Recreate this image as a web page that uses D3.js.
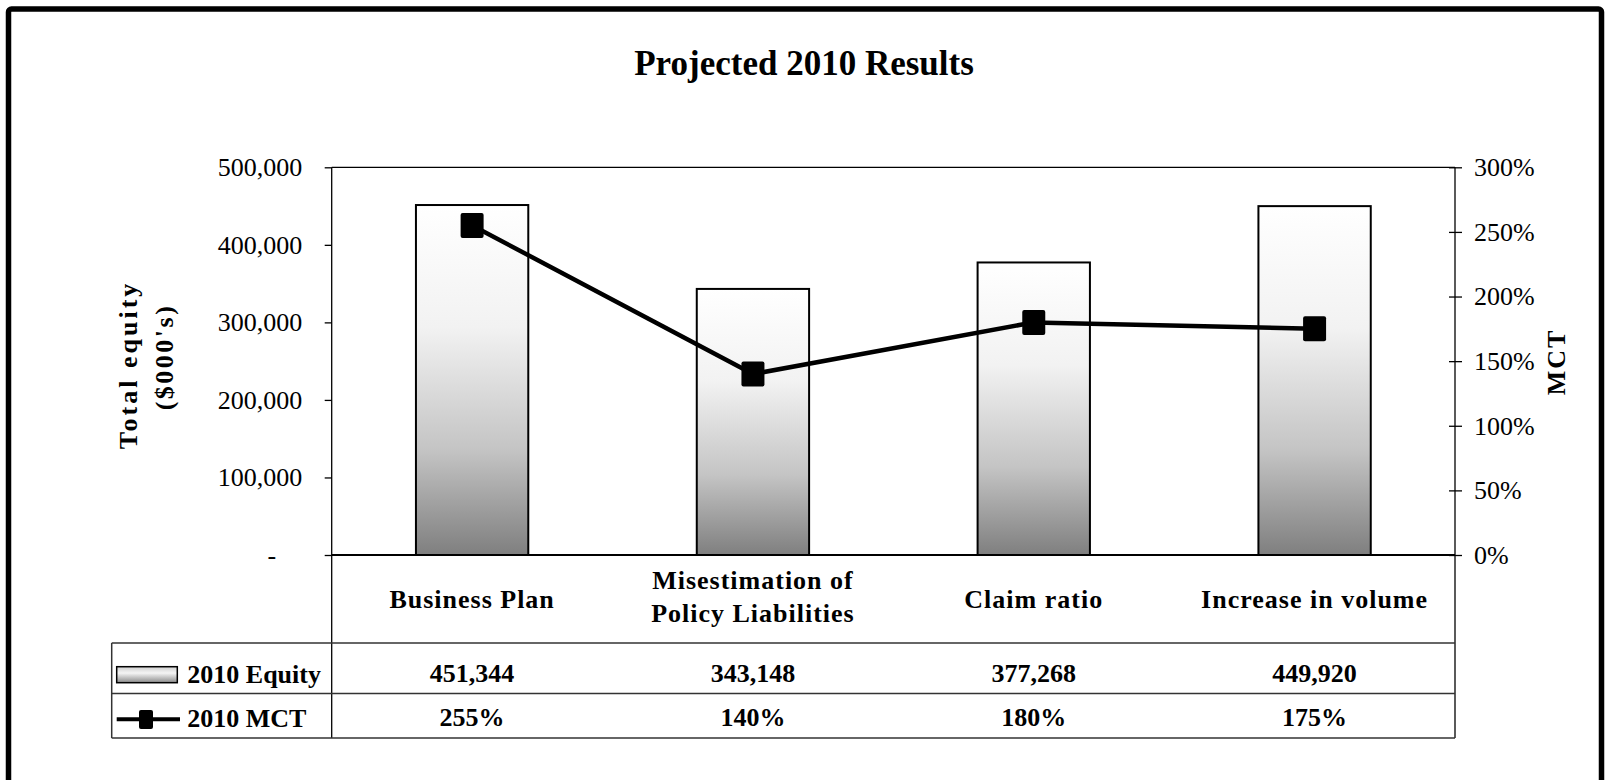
<!DOCTYPE html>
<html>
<head>
<meta charset="utf-8">
<script src="https://cdn.jsdelivr.net/npm/d3@7"></script>
<style>
  html, body { margin: 0; padding: 0; background: #fff; }
  svg { display: block; }
  text { font-family: "Liberation Serif", "Times New Roman", serif; fill: #000; }
</style>
</head>
<body>
<svg id="chart" width="1606" height="780"></svg>
<script>
// ---- data ----
const title = "Projected 2010 Results";
const categories = ["Business Plan", "Misestimation of\nPolicy Liabilities", "Claim ratio", "Increase in volume"];
const equity = [451344, 343148, 377268, 449920];
const mct = [2.55, 1.40, 1.80, 1.75];
const equityTicks = [0, 100000, 200000, 300000, 400000, 500000];
const mctTicks = [0, 0.5, 1.0, 1.5, 2.0, 2.5, 3.0];
const seriesNames = ["2010 Equity", "2010 MCT"];
const equityLabels = ["451,344", "343,148", "377,268", "449,920"];
const mctLabels = ["255%", "140%", "180%", "175%"];

// ---- layout ----
const svg = d3.select("#chart");
const plot = { left: 331.7, right: 1455, top: 167.3, bottom: 555 };
const table = { left: 111.7, top: 643, mid: 693.5, bottom: 738 };

const x = d3.scaleBand().domain(categories).range([plot.left, plot.right]).padding(0);
const yL = d3.scaleLinear().domain([0, 500000]).range([plot.bottom, plot.top]);
const yR = d3.scaleLinear().domain([0, 3]).range([plot.bottom, plot.top]);
const barW = x.bandwidth() * 0.4;

// gradient
const defs = svg.append("defs");
const grad = defs.append("linearGradient").attr("id", "barGrad")
  .attr("x1", 0).attr("y1", 0).attr("x2", 0).attr("y2", 1);
[[0, "#ffffff"], [0.35, "#f2f2f2"], [0.7, "#c4c4c4"], [1, "#7f7f7f"]].forEach(([o, c]) =>
  grad.append("stop").attr("offset", o).attr("stop-color", c));
const grad2 = defs.append("linearGradient").attr("id", "legGrad")
  .attr("x1", 0).attr("y1", 0).attr("x2", 0).attr("y2", 1);
[[0, "#cfcfcf"], [0.4, "#f4f4f4"], [1, "#8a8a8a"]].forEach(([o, c]) =>
  grad2.append("stop").attr("offset", o).attr("stop-color", c));

// outer border
svg.append("rect").attr("x", 8.5).attr("y", 9).attr("width", 1593).attr("height", 900)
  .attr("rx", 3).attr("fill", "none").attr("stroke", "#000").attr("stroke-width", 5.5);

// title
svg.append("text").attr("x", 804).attr("y", 75).attr("text-anchor", "middle")
  .style("font-size", "35px").style("font-weight", "bold").text(title);

// bars
svg.append("g").selectAll("rect").data(equity).join("rect")
  .attr("x", (d, i) => x(categories[i]) + x.bandwidth() / 2 - barW / 2)
  .attr("y", d => yL(d))
  .attr("width", barW)
  .attr("height", d => yL(0) - yL(d))
  .attr("fill", "url(#barGrad)")
  .attr("stroke", "#000").attr("stroke-width", 2);

// plot frame
svg.append("line").attr("x1", plot.left).attr("x2", plot.right).attr("y1", plot.top).attr("y2", plot.top)
  .attr("stroke", "#000").attr("stroke-width", 1.3);

// left axis
const axL = svg.append("g").attr("transform", `translate(${plot.left},0)`)
  .call(d3.axisLeft(yL).tickValues(equityTicks).tickSize(7).tickPadding(22.5)
    .tickFormat(d => d === 0 ? "-" : d3.format(",")(d)));
axL.select(".domain").remove();
axL.selectAll("line").attr("stroke", "#000").attr("stroke-width", 1.3);
axL.selectAll("text").style("font-size", "26px").style("font-family", "Liberation Serif, serif")
  .attr("dx", d => d === 0 ? -26 : 0);

// right axis
const axR = svg.append("g").attr("transform", `translate(${plot.right},0)`)
  .call(d3.axisRight(yR).tickValues(mctTicks).tickSize(7).tickPadding(12)
    .tickFormat(d3.format(".0%")));
axR.select(".domain").remove();
axR.selectAll("line").attr("x1", -6).attr("stroke", "#000").attr("stroke-width", 1.3);
axR.selectAll("text").style("font-size", "26px").style("font-family", "Liberation Serif, serif");

// axis lines
svg.append("line").attr("x1", plot.left).attr("x2", plot.left).attr("y1", plot.top).attr("y2", table.bottom)
  .attr("stroke", "#000").attr("stroke-width", 1.3);
svg.append("line").attr("x1", plot.right).attr("x2", plot.right).attr("y1", plot.top).attr("y2", table.bottom)
  .attr("stroke", "#000").attr("stroke-width", 1.3);
svg.append("line").attr("x1", plot.left).attr("x2", plot.right).attr("y1", plot.bottom).attr("y2", plot.bottom)
  .attr("stroke", "#000").attr("stroke-width", 2);

// MCT line
const line = d3.line().x((d, i) => x(categories[i]) + x.bandwidth() / 2).y(d => yR(d));
svg.append("path").datum(mct).attr("d", line).attr("fill", "none")
  .attr("stroke", "#000").attr("stroke-width", 4.5).attr("stroke-linejoin", "round");
svg.append("g").selectAll("rect").data(mct).join("rect")
  .attr("x", (d, i) => x(categories[i]) + x.bandwidth() / 2 - 11.5)
  .attr("y", d => yR(d) - 12.5)
  .attr("width", 23).attr("height", 25).attr("rx", 2)
  .attr("fill", "#000");

// axis titles
svg.append("text").attr("transform", "translate(137,365) rotate(-90)")
  .attr("text-anchor", "middle").style("font-size", "26px").style("font-weight", "bold")
  .style("letter-spacing", "3px").text("Total equity");
svg.append("text").attr("transform", "translate(173,357) rotate(-90)")
  .attr("text-anchor", "middle").style("font-size", "26px").style("font-weight", "bold")
  .style("letter-spacing", "2.5px").text("($000's)");
svg.append("text").attr("transform", "translate(1565,362) rotate(-90)")
  .attr("text-anchor", "middle").style("font-size", "26px").style("font-weight", "bold")
  .style("letter-spacing", "2px").text("MCT");

// category labels
const catG = svg.append("g");
categories.forEach(c => {
  const lines = c.split("\n");
  const cx = x(c) + x.bandwidth() / 2;
  const t = catG.append("text").attr("text-anchor", "middle")
    .style("font-size", "26px").style("font-weight", "bold").style("letter-spacing", "1px");
  if (lines.length === 1) {
    t.append("tspan").attr("x", cx).attr("y", 608).text(lines[0]);
  } else {
    t.append("tspan").attr("x", cx).attr("y", 589).text(lines[0]);
    t.append("tspan").attr("x", cx).attr("y", 622).text(lines[1]);
  }
});

// table lines
const tl = svg.append("g").attr("stroke", "#333").attr("stroke-width", 1.5);
[table.top, table.mid, table.bottom].forEach(yy =>
  tl.append("line").attr("x1", table.left).attr("x2", plot.right).attr("y1", yy).attr("y2", yy));
tl.append("line").attr("x1", table.left).attr("x2", table.left).attr("y1", table.top).attr("y2", table.bottom);

// legend keys
svg.append("rect").attr("x", 116.7).attr("y", 666.7).attr("width", 60.6).attr("height", 16)
  .attr("fill", "url(#legGrad)").attr("stroke", "#000").attr("stroke-width", 1.5);
svg.append("line").attr("x1", 116.7).attr("x2", 180).attr("y1", 719.3).attr("y2", 719.3)
  .attr("stroke", "#000").attr("stroke-width", 4);
svg.append("rect").attr("x", 139).attr("y", 710).attr("width", 14).attr("height", 19).attr("rx", 2)
  .attr("fill", "#000");
svg.append("text").attr("x", 187.3).attr("y", 683).style("font-size", "26px").style("font-weight", "bold")
  .text(seriesNames[0]);
svg.append("text").attr("x", 187.3).attr("y", 727).style("font-size", "26px").style("font-weight", "bold")
  .text(seriesNames[1]);

// table values
svg.append("g").selectAll("text").data(equityLabels).join("text")
  .attr("x", (d, i) => x(categories[i]) + x.bandwidth() / 2).attr("y", 682)
  .attr("text-anchor", "middle").style("font-size", "26px").style("font-weight", "bold")
  .text(d => d);
svg.append("g").selectAll("text").data(mctLabels).join("text")
  .attr("x", (d, i) => x(categories[i]) + x.bandwidth() / 2).attr("y", 726)
  .attr("text-anchor", "middle").style("font-size", "26px").style("font-weight", "bold")
  .text(d => d);
</script>
</body>
</html>
